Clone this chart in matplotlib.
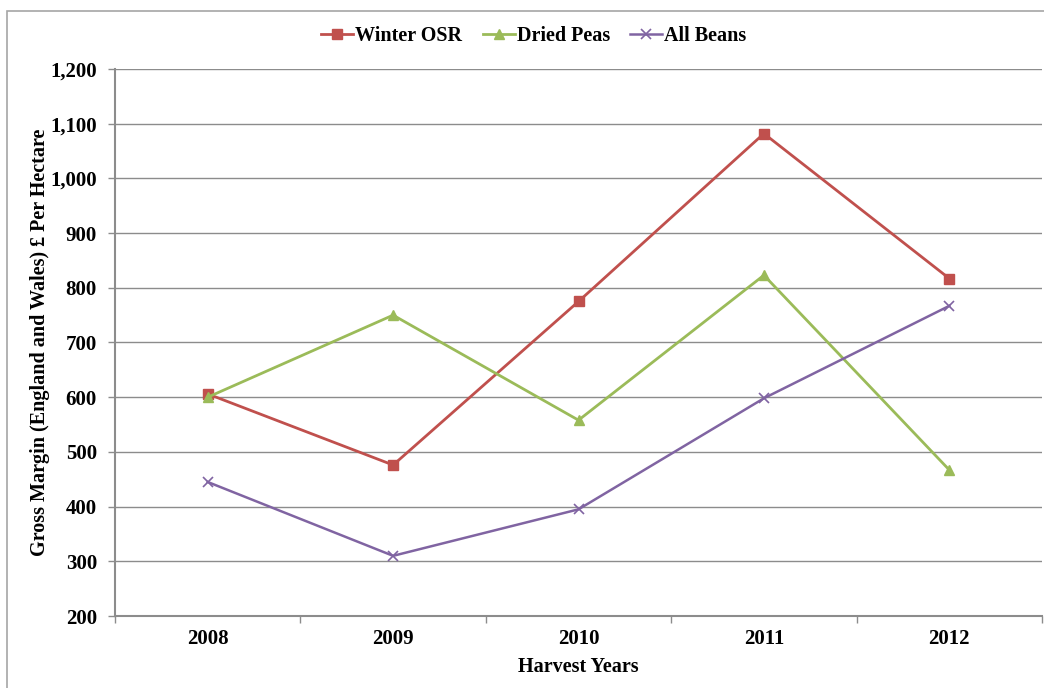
import matplotlib
matplotlib.use("Agg")
import matplotlib.pyplot as plt
from matplotlib.patches import Rectangle
from matplotlib.ticker import FuncFormatter, FixedLocator, NullFormatter

years = ["2008", "2009", "2010", "2011", "2012"]
winter_osr = [606, 476, 775, 1082, 817]
dried_peas = [600, 750, 558, 823, 467]
all_beans = [445, 310, 395, 598, 767]

plt.rcParams["font.family"] = ["Liberation Serif", "DejaVu Serif"]
plt.rcParams["font.weight"] = "bold"

fig = plt.figure(figsize=(10.44, 6.88), dpi=100)
ax = fig.add_axes([115 / 1044, 72 / 688, 927 / 1044, 547 / 688])

# outer chart frame
fig.patches.append(Rectangle((7 / 1044, -0.02), 1.1, 1 - 11 / 688 + 0.02,
                             transform=fig.transFigure, fill=False,
                             edgecolor="#A6A6A6", linewidth=1.2))

x = list(range(len(years)))
ax.plot(x, winter_osr, color="#C0504D", lw=2.0, marker="s", ms=7,
        label="Winter OSR")
ax.plot(x, dried_peas, color="#9BBB59", lw=2.0, marker="^", ms=7,
        label="Dried Peas")
ax.plot(x, all_beans, color="#8064A2", lw=1.8, marker="x", ms=7, mew=1.2,
        label="All Beans")

ax.set_xlim(-0.5, len(years) - 0.5)
ax.set_ylim(200, 1200)
ax.set_yticks(range(200, 1201, 100))
ax.yaxis.set_major_formatter(FuncFormatter(lambda v, p: f"{int(v):,}"))
ax.grid(axis="y", color="#8C8C8C", lw=1.0)
ax.set_axisbelow(True)

# category labels centred, tick marks between categories
ax.xaxis.set_major_locator(FixedLocator([i - 0.5 for i in range(len(years) + 1)]))
ax.xaxis.set_major_formatter(NullFormatter())
ax.xaxis.set_minor_locator(FixedLocator(x))
ax.set_xticklabels(years, minor=True)
ax.tick_params(axis="x", which="minor", length=0, pad=9, labelsize=15)
ax.tick_params(axis="x", which="major", length=5, color="#8C8C8C", width=1)
ax.tick_params(axis="y", length=5, color="#8C8C8C", width=1, labelsize=15, pad=8)

for s in ("top", "right"):
    ax.spines[s].set_visible(False)
for s in ("left", "bottom"):
    ax.spines[s].set_color("#8C8C8C")
    ax.spines[s].set_linewidth(1.5)

ax.set_xlabel("Harvest Years", fontsize=14.5, fontweight="bold", labelpad=6)
ax.set_ylabel("Gross Margin (England and Wales) £ Per Hectare", fontsize=14.5,
              fontweight="bold", labelpad=0)

fig.legend(loc="center", bbox_to_anchor=(534 / 1044, 1 - 36 / 688), ncol=3,
           frameon=False, handlelength=1.6, handletextpad=0.1,
           columnspacing=1.0, prop={"weight": "bold", "size": 14.5})

fig.savefig("out.png", dpi=100)
